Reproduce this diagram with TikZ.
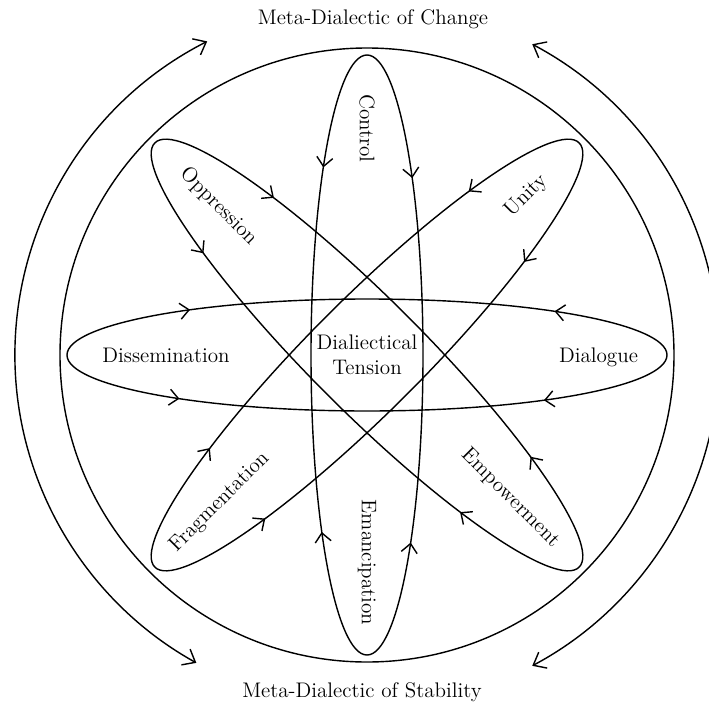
\documentclass[tikz,border=0pt]{standalone}
\usetikzlibrary{arrows.meta, decorations.markings}

\tikzset{
  orbit/.style={postaction={decorate}, decoration={markings,
      mark=at position 0.1 with {\arrow{>}},
      mark=at position 0.4 with {\arrow{<}},
      mark=at position 0.6 with {\arrow{>}},
      mark=at position 0.9 with {\arrow{<}}}},
  metaarc/.style={{Straight Barb[length=2.2mm,width=3.6mm]}-{Straight Barb[length=2.2mm,width=3.6mm]}},
}

\begin{document}
\begin{tikzpicture}[>={Straight Barb[length=1.8mm,width=3.2mm]}, line width=0.8pt, font=\large]
    \useasboundingbox (-7.34,-7.04) rectangle (6.84,7.10);
    \clip (-7.34,-7.04) rectangle (6.84,7.10);

    % Vòng tròn ngoài
    \draw (0,0) circle[radius=6.14];

    % Bốn vòng elip, mũi tên hướng vào tâm
    \foreach \ang in {0,45,90,135} {
        \draw[orbit, rotate=\ang] (0,0) ellipse[x radius=6.0, y radius=1.12];
    }

    % Nhãn ở tâm
    \node[align=center] (tension) at (0,0) {Dialiectical\\Tension};

    % Nhãn của các cực
    \foreach \nm/\ang/\dist/\rot/\txt in {control/90/4.53/-90/Control,
        emancipation/270/4.15/-90/Emancipation,
        dissemination/180/4.02/0/Dissemination,
        dialogue/-0.7/4.63/0/Dialogue,
        oppression/135/4.2/-45/Oppression,
        empowerment/-45/4.05/-45/Empowerment,
        unity/45/4.5/45/Unity,
        fragmentation/225/4.17/45/Fragmentation} {
        \node[rotate=\rot] (\nm) at (\ang:\dist) {\txt};
    }

    % Meta-dialectic trên và dưới
    \node (change) at (0.12,6.72) {Meta-Dialectic of Change};
    \node (stability) at (-0.1,-6.74) {Meta-Dialectic of Stability};

    % Cung hai đầu mũi tên
    \draw[metaarc] (117:7.04) arc[start angle=117, end angle=241, radius=7.04];
    \draw[metaarc] (62:7.04) arc[start angle=62, end angle=-62, radius=7.04];

\end{tikzpicture}
\end{document}
